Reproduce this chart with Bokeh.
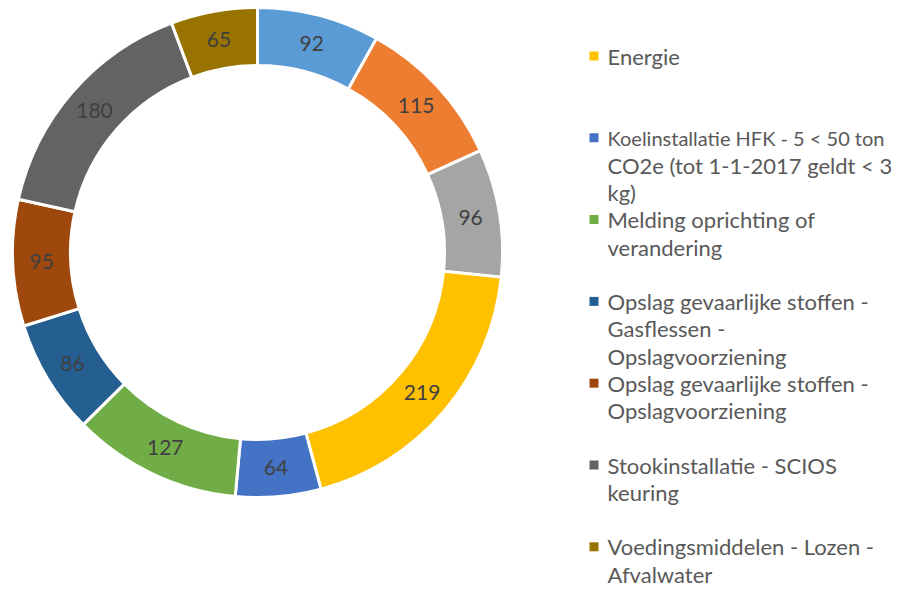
import math
from bokeh.plotting import figure
from bokeh.models import Range1d, ColumnDataSource
from bokeh.core.properties import value
from bokeh.embed import file_html
from bokeh.resources import INLINE

# ---- data ----
values = [92, 115, 96, 219, 64, 127, 86, 95, 180, 65]
colors = ["#5B9BD5", "#ED7D31", "#A5A5A5", "#FFC000", "#4472C4",
          "#70AD47", "#255E91", "#9E480E", "#636363", "#997300"]
legend_labels = [
    ["Energie"],
    ["Koelinstallatie HFK - 5 < 50 ton", "CO2e (tot 1-1-2017 geldt < 3", "kg)"],
    ["Melding oprichting of", "verandering"],
    ["Opslag gevaarlijke stoffen -", "Gasflessen -", "Opslagvoorziening"],
    ["Opslag gevaarlijke stoffen -", "Opslagvoorziening"],
    ["Stookinstallatie - SCIOS", "keuring"],
    ["Voedingsmiddelen - Lozen -", "Afvalwater"],
]
legend_colors = colors[3:]

W, H = 891, 589
FONT = "Lato"

# data coordinates: x = picture px, y = 605 - picture px (origin at figure top-left)
p = figure(width=W, height=H, output_backend="svg", toolbar_location=None,
           x_range=Range1d(0, W), y_range=Range1d(605 - H, 605),
           x_axis_location=None, y_axis_location=None, min_border=0)
p.grid.visible = False
p.outline_line_color = None
p.background_fill_color = "white"
p.border_fill_color = "white"

cx, cy = 257, 605 - 252
r_out, r_in = 245, 187
total = sum(values)

starts, ends, mids = [], [], []
acc = 0.0
for v in values:
    a0 = math.pi / 2 - 2 * math.pi * acc / total
    acc += v
    a1 = math.pi / 2 - 2 * math.pi * acc / total
    starts.append(a0)
    ends.append(a1)
    mids.append((a0 + a1) / 2)

src = ColumnDataSource(dict(start=starts, end=ends, color=colors))
p.annular_wedge(x=cx, y=cy, inner_radius=r_in, outer_radius=r_out,
                start_angle="start", end_angle="end", direction="clock",
                fill_color="color", line_color="white", line_width=3,
                source=src)

r_lab = (r_in + r_out) / 2
lab = ColumnDataSource(dict(
    x=[cx + r_lab * math.cos(m) for m in mids],
    y=[cy + r_lab * math.sin(m) for m in mids],
    t=[str(v) for v in values]))
p.text(x="x", y="y", text="t", source=lab, text_align="center",
       text_baseline="middle", text_font=value(FONT), text_font_size="21px",
       text_color="#404040")

# ---- legend ----
lx_sq, lx_txt = 593.5, 607
top0, slot, line_h = 55.5, 81.8, 27.5
sq_x, sq_y, sq_c, tx, ty, tt, tsz = [], [], [], [], [], [], []
for i, (lines, c) in enumerate(zip(legend_labels, legend_colors)):
    y0 = top0 + i * slot
    sq_x.append(lx_sq)
    sq_y.append(605 - y0)
    sq_c.append(c)
    for j, ln in enumerate(lines):
        tx.append(lx_txt)
        ty.append(605 - (y0 + j * line_h))
        tt.append(ln)
        tsz.append("20px" if len(ln) > 30 else "22px")

p.rect(x=sq_x, y=sq_y, width=9, height=9, fill_color=sq_c, line_color=None)
leg = ColumnDataSource(dict(x=tx, y=ty, t=tt, s=tsz))
p.text(x="x", y="y", text="t", text_font_size="s", source=leg,
       text_align="left", text_baseline="middle",
       text_font=value(FONT), text_color="#595959")

open("out.html", "w").write(file_html(p, INLINE))
